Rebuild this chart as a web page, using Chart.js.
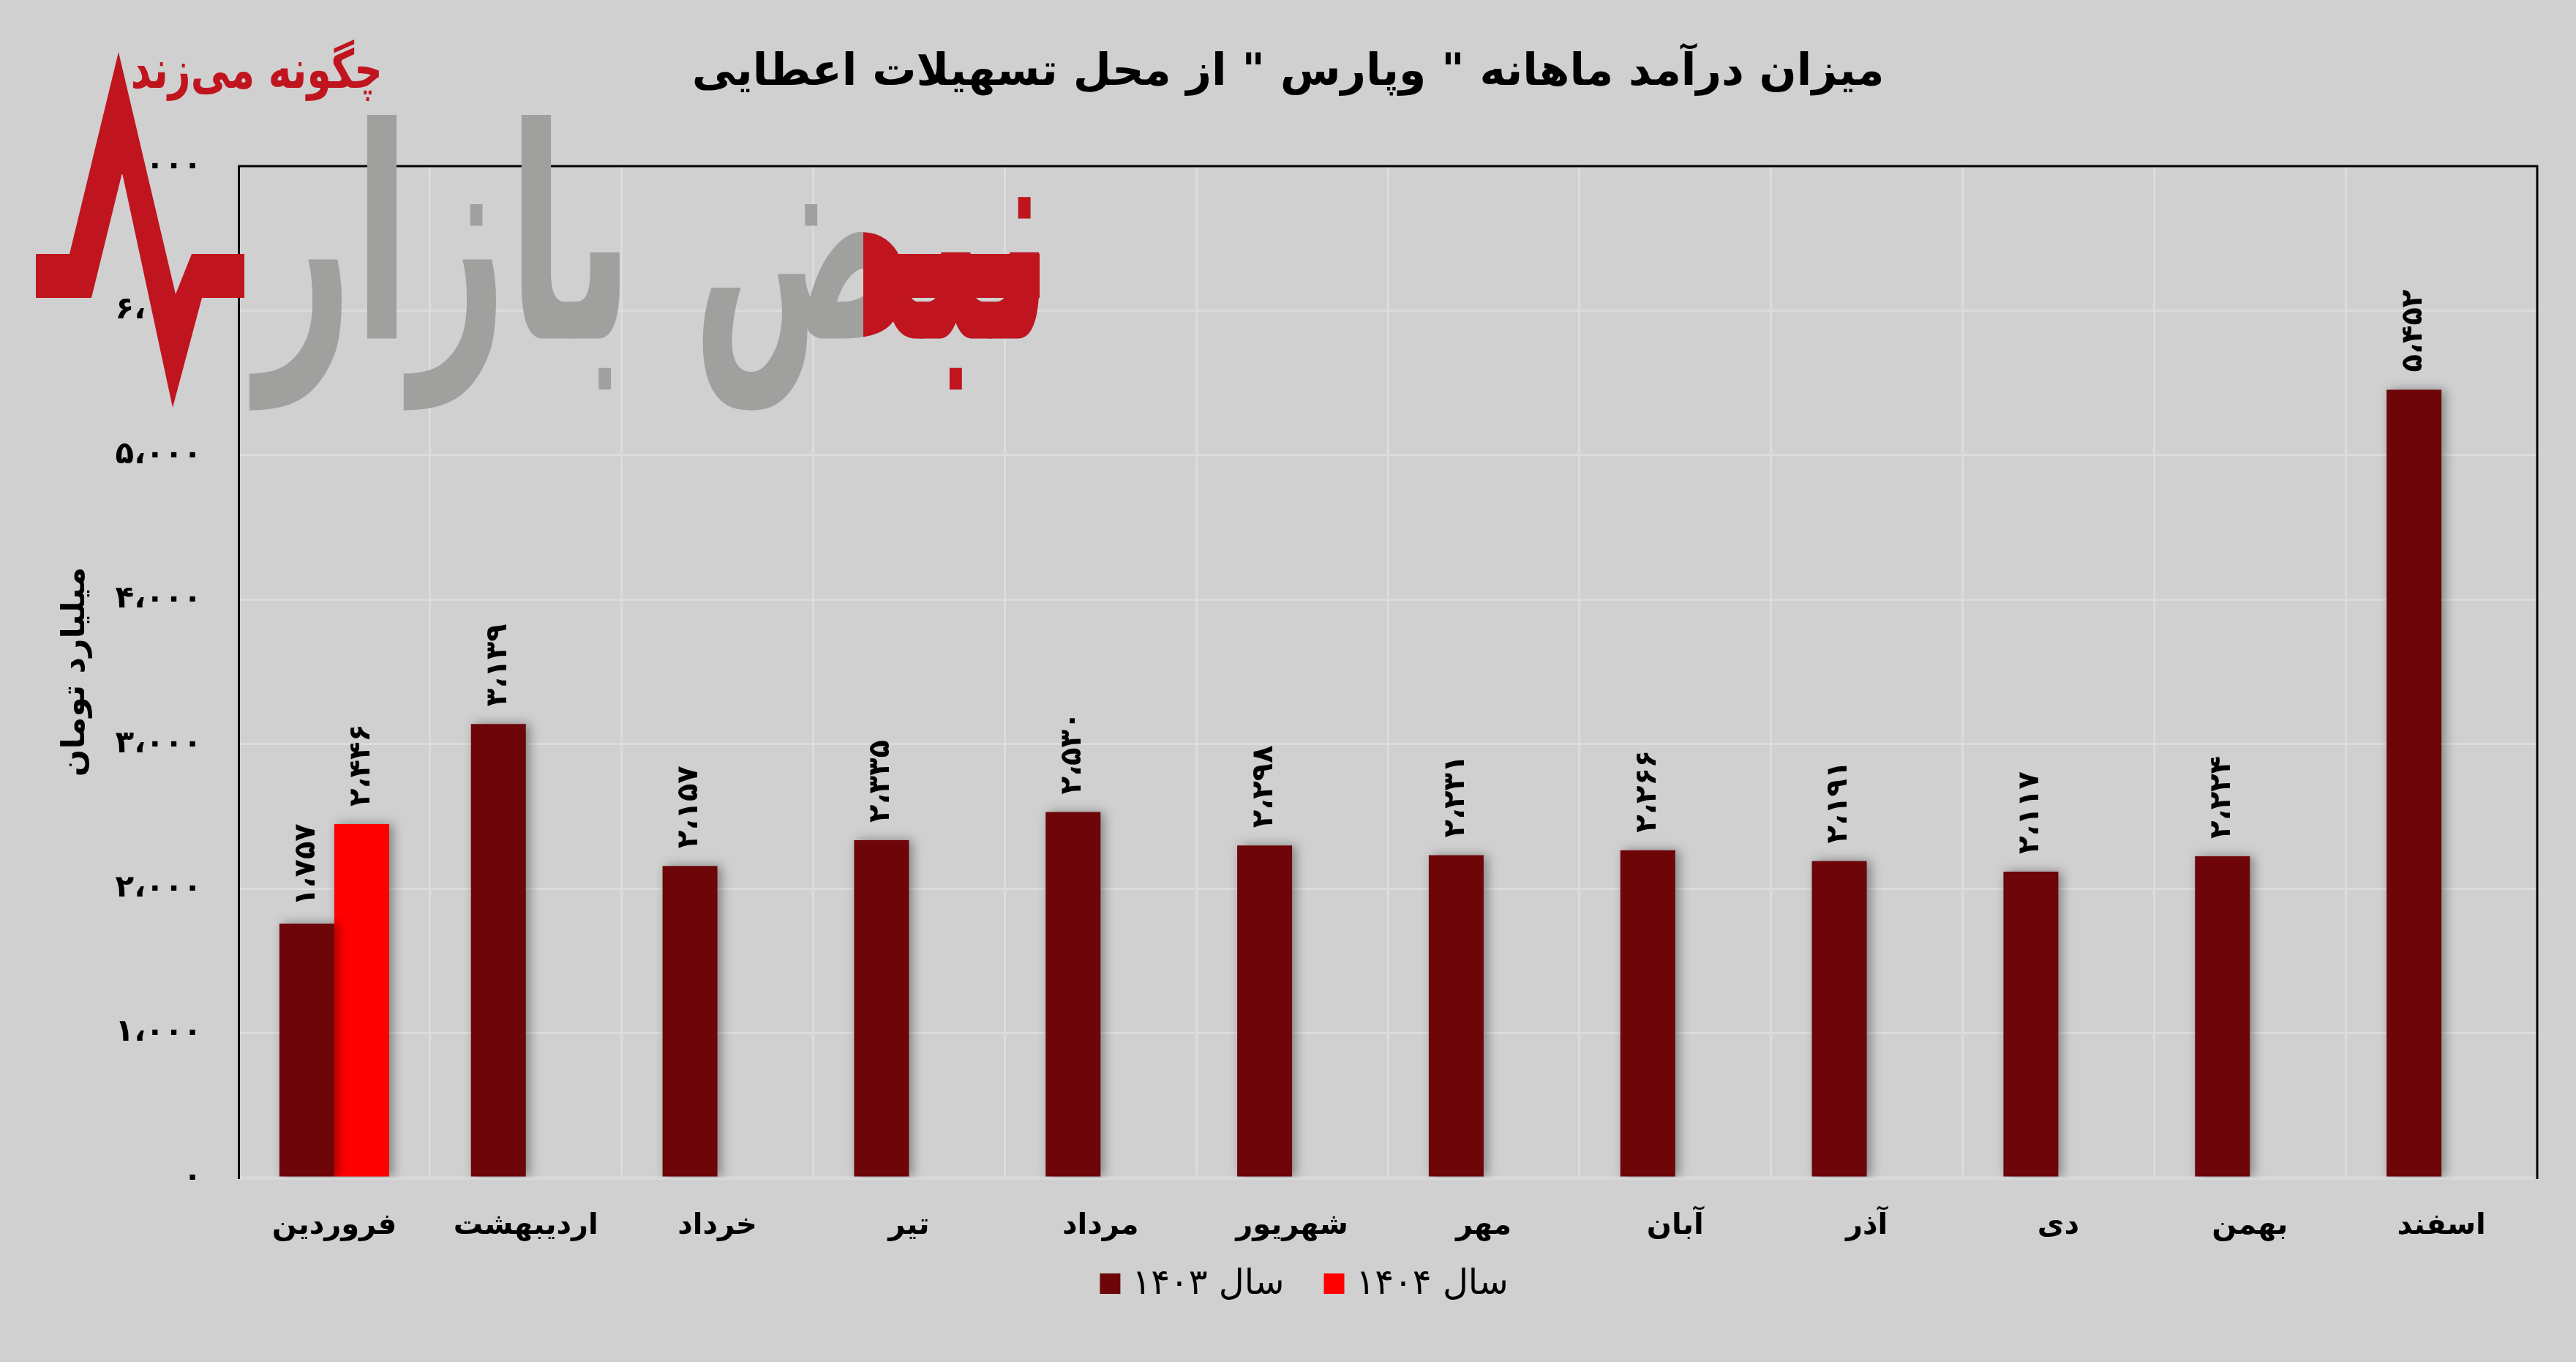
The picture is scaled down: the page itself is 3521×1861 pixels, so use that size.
<!DOCTYPE html>
<html><head><meta charset="utf-8">
<script src="https://cdn.jsdelivr.net/npm/chart.js@4.4.1/dist/chart.umd.min.js"></script>
<style>html,body{margin:0;padding:0;background:#d0d0d0;overflow:hidden}</style>
</head><body>
<canvas id="c" width="3521" height="1861" style="width:3521px;height:1861px;display:block"></canvas>
<script>
// ---- data ----
const categories = ['فروردین','اردیبهشت','خرداد','تیر','مرداد','شهریور','مهر','آبان','آذر','دی','بهمن','اسفند'];
const values1403 = [1757, 3139, 2157, 2335, 2530, 2298, 2231, 2266, 2191, 2117, 2224, 5452];
const values1404 = [2446, null, null, null, null, null, null, null, null, null, null, null];
const seriesNames = ['سال ۱۴۰۳', 'سال ۱۴۰۴'];
const titleText = 'میزان درآمد ماهانه " وپارس " از محل تسهیلات اعطایی';
const yAxisTitle = 'میلیارد تومان';
const yMin = 0, yMax = 7000, yStep = 1000;
const logoTagline = 'چگونه می‌زند';
const logoName = 'نبض بازار';

const FONT = "'DejaVu Sans', sans-serif";
const DARK = '#6d0509', RED = '#ff0000';
const SERIES_COLORS = [DARK, RED];

function faNum(v){
  const s = Math.round(v).toString().replace(/\B(?=(\d{3})+(?!\d))/g, '،');
  return s.replace(/\d/g, d => '۰۱۲۳۴۵۶۷۸۹'[+d]);
}

const mc = document.createElement('canvas').getContext('2d');
mc.font = 'bold 60px ' + FONT;
let titleSize = Math.round(Math.min(64, 60 * 1640 / mc.measureText(titleText).width));

const framePlugin = {
  id: 'frame',
  beforeDatasetsDraw(chart){
    const {ctx, chartArea: a} = chart;
    ctx.save();
    ctx.strokeStyle = '#000'; ctx.lineWidth = 3;
    ctx.beginPath();
    ctx.moveTo(a.left, a.top); ctx.lineTo(a.right, a.top); ctx.lineTo(a.right, a.bottom + 2);
    ctx.stroke();
    ctx.restore();
  }
};
const shadowPlugin = {
  id: 'barShadow',
  beforeDatasetsDraw(chart){
    const c = chart.ctx; c.save();
    c.shadowColor = 'rgba(0,0,0,0.38)'; c.shadowBlur = 14; c.shadowOffsetX = 5; c.shadowOffsetY = 0;
  },
  afterDatasetsDraw(chart){ chart.ctx.restore(); }
};
const labelPlugin = {
  id: 'valueLabels',
  afterDatasetsDraw(chart){
    const ctx = chart.ctx;
    chart.data.datasets.forEach((ds, i) => {
      const meta = chart.getDatasetMeta(i);
      meta.data.forEach((el, j) => {
        const v = ds.data[j];
        if (v == null) return;
        ctx.save();
        ctx.translate(el.x, el.y - 24);
        ctx.rotate(-Math.PI / 2);
        ctx.font = 'bold 40px ' + FONT;
        ctx.fillStyle = '#000'; ctx.textAlign = 'left'; ctx.textBaseline = 'middle';
        ctx.fillText(faNum(v), 0, 0);
        ctx.restore();
      });
    });
  }
};
const legendPlugin = {
  id: 'customLegend',
  afterDraw(chart){
    const ctx = chart.ctx;
    ctx.save();
    ctx.font = '48px ' + FONT;
    ctx.textAlign = 'left'; ctx.textBaseline = 'middle';
    const box = 28, gap = 16, sep = 54;
    const widths = chart.data.datasets.map(d => ctx.measureText(d.label).width);
    const total = widths.reduce((s, w) => s + box + gap + w, 0) + sep * (widths.length - 1);
    let x = chart.width / 2 + 22 - total / 2;
    const cy = 1754;
    chart.data.datasets.forEach((d, i) => {
      ctx.fillStyle = d.backgroundColor;
      ctx.fillRect(x, cy - box / 2, box, box);
      x += box + gap;
      ctx.fillStyle = '#000';
      ctx.fillText(d.label, x, cy + 2);
      x += widths[i] + sep;
    });
    ctx.restore();
  }
};
function fitText(ctx, text, x0, y0, x1, y1, color){
  ctx.save();
  ctx.font = 'bold 200px ' + FONT;
  ctx.textAlign = 'left'; ctx.textBaseline = 'alphabetic';
  const m = ctx.measureText(text);
  const w = m.actualBoundingBoxLeft + m.actualBoundingBoxRight;
  const h = m.actualBoundingBoxAscent + m.actualBoundingBoxDescent;
  ctx.translate(x0, y0); ctx.scale((x1 - x0) / w, (y1 - y0) / h);
  ctx.fillStyle = color;
  ctx.fillText(text, m.actualBoundingBoxLeft, m.actualBoundingBoxAscent);
  ctx.restore();
}
const logoPlugin = {
  id: 'logo',
  afterDraw(chart){
    const ctx = chart.ctx;
    const LR = '#c0141f', LG = '#a0a09e';
    fitText(ctx, logoName, 340, 157, 1421, 561, LG);
    ctx.save();
    ctx.beginPath(); ctx.rect(1180, 140, 260, 440); ctx.clip();
    fitText(ctx, logoName, 340, 157, 1421, 561, LR);
    ctx.restore();
    ctx.save();
    ctx.fillStyle = LR;
    ctx.fillRect(1180, 347, 241, 60);
    const P = [[49,347],[95,347],[162,71],[240,402],[262,347],[334,347],[334,407],[276,407],
               [236,557],[167,236],[125,407],[49,407]];
    ctx.beginPath();
    P.forEach((p, i) => i ? ctx.lineTo(p[0], p[1]) : ctx.moveTo(p[0], p[1]));
    ctx.closePath(); ctx.fill();
    ctx.restore();
    fitText(ctx, logoTagline, 182, 54, 518, 138, LR);
  }
};

new Chart(document.getElementById('c'), {
  type: 'bar',
  data: {
    labels: categories,
    datasets: [
      {label: seriesNames[0], data: values1403, backgroundColor: SERIES_COLORS[0], borderWidth: 0,
       categoryPercentage: 0.573, barPercentage: 1.0},
      {label: seriesNames[1], data: values1404, backgroundColor: SERIES_COLORS[1], borderWidth: 0,
       categoryPercentage: 0.573, barPercentage: 1.0}
    ]
  },
  options: {
    responsive: false, animation: false, devicePixelRatio: 1,
    layout: {padding: {left: 53, right: 53, top: 0, bottom: 161}},
    plugins: {
      title: {display: true, text: titleText, color: '#000',
        font: {family: FONT, size: titleSize, weight: 'bold'},
        padding: {top: 100 - 0.6 * titleSize, bottom: 127 - 0.6 * titleSize}},
      legend: {display: false},
      tooltip: {enabled: false}
    },
    scales: {
      x: {
        grid: {color: '#dcdcdc', lineWidth: 3, drawTicks: false, offset: true},
        border: {display: true, color: '#d8d8d8', width: 5},
        ticks: {color: '#000', font: {family: FONT, size: 40, weight: 'bold'}, padding: 43,
          maxRotation: 0, autoSkip: false},
        afterFit: s => { s.height = 91; }
      },
      y: {
        min: yMin, max: yMax,
        grid: {color: '#dcdcdc', lineWidth: 3, drawTicks: false},
        border: {display: true, color: '#000', width: 3},
        ticks: {stepSize: yStep, color: '#000', padding: 50,
          font: {family: FONT, size: 42, weight: 'bold'},
          callback: v => faNum(v)},
        title: {display: true, text: yAxisTitle, color: '#000',
          font: {family: FONT, size: 44, weight: 'bold'}, padding: {top: 24, bottom: 0}},
        afterFit: s => { s.width = 326 - 53; }
      }
    }
  },
  plugins: [framePlugin, shadowPlugin, labelPlugin, legendPlugin, logoPlugin]
});
</script>
</body></html>
